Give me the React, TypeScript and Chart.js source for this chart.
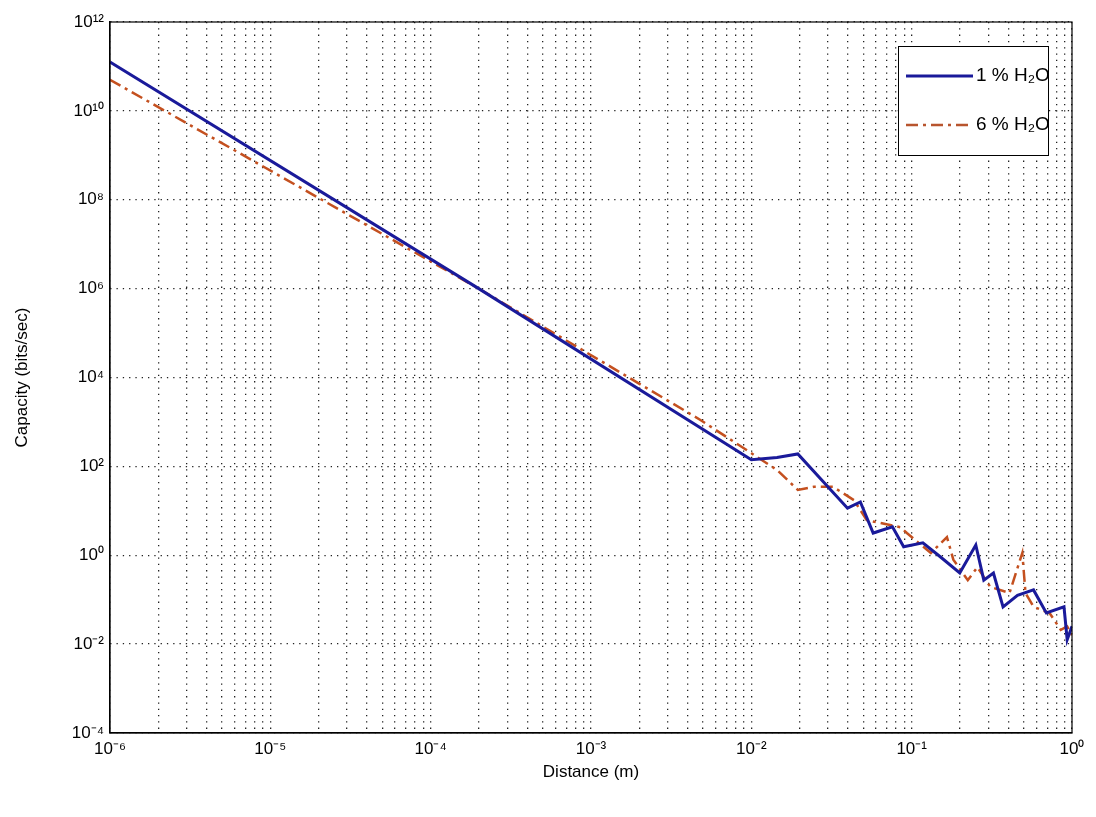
import { useEffect, useRef } from 'react'
import { Chart, registerables } from 'chart.js'
Chart.register(...registerables)

// log10 of distance (m) and capacity (bits/sec)
const BLUE_X = [-6, -3.7, -2, -1.84, -1.71, -1.40, -1.32, -1.24, -1.12, -1.05, -0.93, -0.82, -0.70, -0.60, -0.55, -0.49, -0.43, -0.34, -0.24, -0.16, -0.05, -0.03, 0]
const BLUE_Y = [11.1, 6.0, 2.15, 2.2, 2.28, 1.06, 1.2, 0.5, 0.64, 0.19, 0.28, -0.04, -0.4, 0.23, -0.56, -0.4, -1.16, -0.9, -0.78, -1.3, -1.16, -1.9, -1.6]
const RED_X = [-6, -3.7, -2.32, -1.84, -1.71, -1.61, -1.49, -1.36, -1.28, -1.07, -1.03, -0.88, -0.78, -0.74, -0.65, -0.59, -0.51, -0.39, -0.31, -0.29, -0.24, -0.14, -0.07, -0.03, 0]
const RED_Y = [10.7, 6.0, 3.05, 1.92, 1.47, 1.54, 1.54, 1.24, 0.79, 0.63, 0.5, 0.05, 0.41, -0.1, -0.56, -0.27, -0.71, -0.85, 0.05, -0.85, -1.16, -1.3, -1.68, -1.6, -1.8]
const X_DECADES = [-6, -5, -4, -3, -2, -1, 0]
const Y_DECADES = [12, 10, 8, 6, 4, 2, 0, -2, -4]
const SERIES_NAMES = ['1 % H\u2082O', '6 % H\u2082O']

const SUP: Record<string, string> = { '-': '\u207B', '0': '\u2070', '1': '\u00B9', '2': '\u00B2', '3': '\u00B3', '4': '\u2074', '5': '\u2075', '6': '\u2076', '7': '\u2077', '8': '\u2078', '9': '\u2079' }
const pow = (e: number) => '10' + String(e).split('').map(c => SUP[c]).join('')
const FONT = 'Liberation Sans, Arial, sans-serif'

const frameAndLegend = {
  id: 'frameAndLegend',
  afterDraw(chart: Chart) {
    const ctx = chart.ctx
    const a = chart.chartArea
    ctx.save()
    ctx.strokeStyle = '#000'
    ctx.lineWidth = 1.2
    ctx.setLineDash([])
    ctx.strokeRect(a.left, a.top, a.right - a.left, a.bottom - a.top)

    const x0 = 898, y0 = 46, w = 150, h = 109
    ctx.fillStyle = '#fff'
    ctx.fillRect(x0, y0, w, h)
    ctx.lineWidth = 1
    ctx.strokeRect(x0 + 0.5, y0 + 0.5, w, h)
    const rows = [
      { y: y0 + 30, color: '#1a1a9a', width: 3, dash: [] as number[] },
      { y: y0 + 79, color: '#b8552e', width: 2.5, dash: [12, 5, 3, 5] },
    ]
    rows.forEach((r, i) => {
      ctx.strokeStyle = r.color
      ctx.lineWidth = r.width
      ctx.setLineDash(r.dash)
      ctx.beginPath()
      ctx.moveTo(x0 + 8, r.y)
      ctx.lineTo(x0 + 75, r.y)
      ctx.stroke()
      ctx.setLineDash([])
      ctx.fillStyle = '#000'
      ctx.font = `19px ${FONT}`
      ctx.textBaseline = 'middle'
      ctx.fillText(SERIES_NAMES[i], x0 + 78, r.y)
    })
    ctx.restore()
  },
}

export default function App() {
  const canvasRef = useRef<HTMLCanvasElement>(null)
  const chartRef = useRef<Chart | null>(null)

  useEffect(() => {
    document.body.style.margin = '0'
    if (!canvasRef.current) return
    chartRef.current?.destroy()
    const grid = { color: '#222', lineWidth: 1.3, drawTicks: false }
    const border = { color: '#000', width: 1.2, dash: [1.3, 5] }
    chartRef.current = new Chart(canvasRef.current, {
      type: 'scatter',
      data: {
        datasets: [
          {
            label: SERIES_NAMES[0],
            data: BLUE_X.map((x, i) => ({ x: 10 ** x, y: 10 ** BLUE_Y[i] })),
            showLine: true, borderColor: '#1a1a9a', borderWidth: 3, pointRadius: 0,
          },
          {
            label: SERIES_NAMES[1],
            data: RED_X.map((x, i) => ({ x: 10 ** x, y: 10 ** RED_Y[i] })),
            showLine: true, borderColor: '#c4501f', borderWidth: 2.5, pointRadius: 0,
            borderDash: [12, 5, 3, 5],
          },
        ],
      },
      options: {
        animation: false,
        responsive: true,
        maintainAspectRatio: false,
        layout: { padding: { top: 22, right: 24, left: 8, bottom: 30 } },
        plugins: { legend: { display: false }, tooltip: { enabled: false } },
        scales: {
          x: {
            type: 'logarithmic', min: 1e-6, max: 1,
            afterFit: (s: any) => { s.height = 54 },
            afterBuildTicks: (s: any) => {
              const t: { value: number }[] = []
              X_DECADES.forEach(d => {
                for (let k = 1; k <= 9; k++) {
                  if (d === 0 && k > 1) break
                  t.push({ value: k * 10 ** d })
                }
              })
              s.ticks = t
            },
            ticks: {
              autoSkip: false, maxRotation: 0, color: '#000', padding: 6,
              font: { size: 17, family: FONT },
              callback: (v: any) => {
                const e = Math.log10(Number(v))
                return Math.abs(e - Math.round(e)) < 1e-9 ? pow(Math.round(e)) : ''
              },
            },
            grid,
            border,
            title: { display: true, text: 'Distance (m)', font: { size: 17, family: FONT }, color: '#000', padding: { top: 2 } },
          },
          y: {
            type: 'logarithmic', min: 1e-4, max: 1e12,
            afterFit: (s: any) => { s.width = 102 },
            afterBuildTicks: (s: any) => { s.ticks = Y_DECADES.map(d => ({ value: 10 ** d })) },
            ticks: {
              autoSkip: false, color: '#000', padding: 6,
              font: { size: 17, family: FONT },
              callback: (v: any) => pow(Math.round(Math.log10(Number(v)))),
            },
            grid,
            border,
            title: { display: true, text: 'Capacity (bits/sec)', font: { size: 17, family: FONT }, color: '#000' },
          },
        },
      } as any,
      plugins: [frameAndLegend],
    })
    return () => { chartRef.current?.destroy() }
  }, [])

  return (
    <div style={{ width: 1096, height: 817, background: '#fff' }}>
      <canvas ref={canvasRef} />
    </div>
  )
}
